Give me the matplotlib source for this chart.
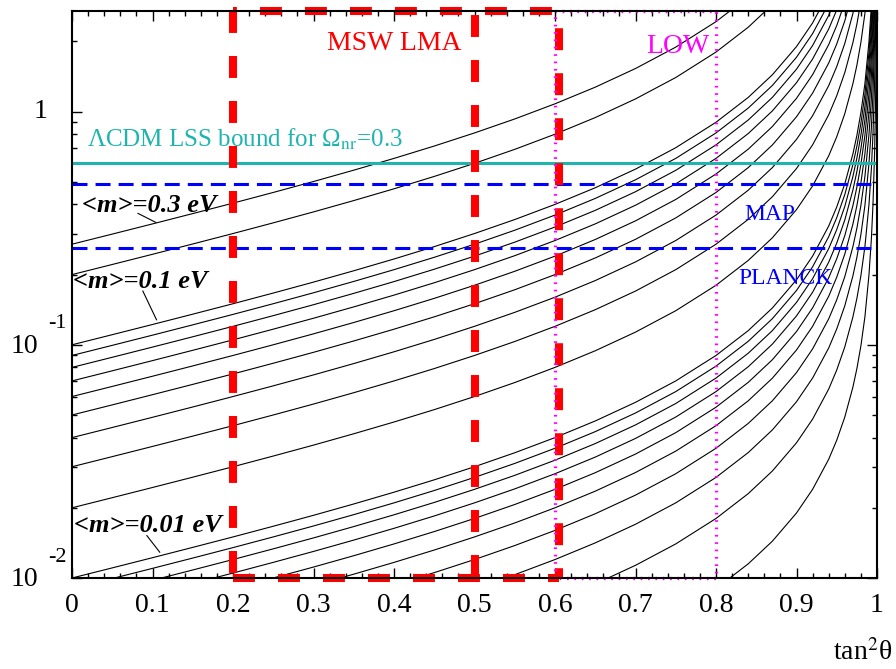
import numpy as np
import matplotlib
matplotlib.use("Agg")
import matplotlib.pyplot as plt
import matplotlib.transforms as mtransforms
from matplotlib.ticker import MultipleLocator, LogLocator, NullFormatter, FixedLocator

plt.rcParams['font.family'] = ['Liberation Serif', 'DejaVu Serif']
plt.rcParams['mathtext.fontset'] = 'stix'
plt.rcParams['lines.scale_dashes'] = False

# effective mass of each curve (eV), read at tan^2 = 0
mass_values = [0.27, 0.2,
               0.1, 0.09, 0.08, 0.07, 0.06, 0.05, 0.04, 0.03, 0.02,
               0.01, 0.009, 0.008, 0.007, 0.006, 0.005, 0.004, 0.003, 0.002, 0.001]

# rise of a curve relative to its value at tan^2 = 0 (same for every curve)
tan2_samples = [0, 0.05, 0.1, 0.15, 0.2, 0.25, 0.3, 0.35, 0.4, 0.45, 0.5, 0.55,
                0.6, 0.65, 0.7, 0.75, 0.8, 0.84, 0.87, 0.9, 0.92, 0.94, 0.95,
                0.96, 0.97, 0.975, 0.98, 0.985, 0.99, 0.993, 0.995, 0.997,
                0.998, 0.9985, 0.999, 0.9993]
growth_ratio = [1, 1.105, 1.222, 1.353, 1.5, 1.667, 1.857, 2.077, 2.333, 2.636, 3.0, 3.444,
                4.0, 4.714, 5.667, 7.0, 9.0, 11.5, 14.38, 19.0, 24.0, 32.3, 39.0,
                49.0, 65.7, 79.0, 99.0, 132.0, 199.0, 284.0, 399.0, 666.0,
                999.0, 1332.0, 1999.0, 2856.0]

lss_bound = 0.6
map_bound = 0.49
planck_bound = 0.26
lma_edges = [0.2, 0.5, 0.605]
low_edges = [0.6, 0.8]

x_ticks = [0, 0.1, 0.2, 0.3, 0.4, 0.5, 0.6, 0.7, 0.8, 0.9, 1]
x_tick_labels = ["0", "0.1", "0.2", "0.3", "0.4", "0.5", "0.6", "0.7", "0.8", "0.9", "1"]
y_min, y_max = 0.01, 2.7

cyan = '#1fb5ad'
magenta = '#ff00ff'

fig = plt.figure(figsize=(8.96, 6.69), dpi=100)
ax = fig.add_axes([72/896, 91/669, 805/896, 567/669])

t = np.array(tan2_samples)
g = np.array(growth_ratio)
for m in mass_values:
    ax.plot(t, m * g, color='black', lw=0.8)

ax.set_yscale('log')
ax.set_xlim(0, 1)
ax.set_ylim(y_min, y_max)

# horizontal bounds
ax.axhline(lss_bound, color=cyan, lw=2.2)
ax.axhline(map_bound, color='blue', lw=2.2, ls=(0, (10.8, 5.8)))
ax.axhline(planck_bound, color='blue', lw=2.2, ls=(0, (10.8, 5.8)))

# MSW LMA box (thick red dashes)
red = dict(color='red', lw=5.8, clip_on=False, dash_capstyle='butt')
dash = (15.8, 16.6)
lo, best, hi = lma_edges
ax.plot([lo, lo], [y_max, y_min], ls=(0, dash), **red)
ax.plot([best, best], [y_max, y_min], ls=(29.5, dash), **red)
ax.plot([hi, hi], [y_max, y_min], ls=(20, dash), **red)
ax.plot([lo, hi], [y_max, y_max], ls=(13, dash), **red)
ax.plot([lo, hi], [y_min, y_min], ls=(0, dash), **red)

# LOW box (magenta dots)
l0, l1 = low_edges
ax.plot([l0, l0, l1, l1, l0], [y_min, y_max, y_max, y_min, y_min],
        color=magenta, lw=2.4, ls=(0, (1.2, 4.1)), clip_on=False)

# labels
ax.text(0.4, 1.846, "MSW LMA", color='red', fontsize=20, ha='center', va='baseline')
ax.text(0.752, 1.79, "LOW", color=magenta, fontsize=20, ha='center', va='baseline')
ax.text(0.0186, 0.708, "ΛCDM LSS bound for Ω$_{\\rm nr}$=0.3", color=cyan,
        fontsize=18, ha='left', va='baseline')
ax.text(0.867, 0.344, "MAP", color='blue', fontsize=17, ha='center', va='baseline')
ax.text(0.886, 0.183, "PLANCK", color='blue', fontsize=17, ha='center', va='baseline')

lab = dict(fontsize=19, fontweight='bold', fontstyle='italic', ha='left', va='baseline')
ax.text(0.0124, 0.372, "<m>=0.3 eV", **lab)
ax.text(0.0012, 0.176, "<m>=0.1 eV", **lab)
ax.text(0.002, 0.01574, "<m>=0.01 eV", **lab)
ax.plot([0.082, 0.104], [0.366, 0.335], color='black', lw=0.8)
ax.plot([0.088, 0.105], [0.170, 0.128], color='black', lw=0.8)
ax.plot([0.093, 0.109], [0.0152, 0.0129], color='black', lw=0.8)

# axes styling
for s in ax.spines.values():
    s.set_linewidth(1.5)
ax.xaxis.set_major_locator(FixedLocator(x_ticks))
ax.set_xticklabels(x_tick_labels)
ax.xaxis.set_minor_locator(MultipleLocator(0.02))
ax.yaxis.set_major_locator(LogLocator(base=10, numticks=10))
ax.yaxis.set_minor_locator(LogLocator(base=10, subs=np.arange(2, 10), numticks=10))
ax.yaxis.set_major_formatter(NullFormatter())
ax.yaxis.set_minor_formatter(NullFormatter())
ax.tick_params(which='both', direction='in', top=True, right=True, width=1.0)
ax.tick_params(which='major', length=7)
ax.tick_params(which='minor', length=3.6)
ax.tick_params(axis='x', which='major', labelsize=20, pad=11)

# y labels in the 10 / exponent style
trans = mtransforms.blended_transform_factory(ax.transAxes, ax.transData)
ax.annotate("1", xy=(0, 1), xycoords=trans, xytext=(-22.3, 0), textcoords='offset points',
            ha='center', va='center', fontsize=20)
for val, expo in [(0.1, "-1"), (0.01, "-2")]:
    ax.annotate("10", xy=(0, val), xycoords=trans, xytext=(-24.5, -1.4),
                textcoords='offset points', ha='right', va='center', fontsize=20)
    ax.annotate(expo, xy=(0, val), xycoords=trans, xytext=(-17, 15),
                textcoords='offset points', ha='left', va='center', fontsize=16)

fig.text(892/896, 9/669, "tan$^{2}$θ", ha='right', va='baseline', fontsize=20)

fig.savefig("out.png", dpi=100)
